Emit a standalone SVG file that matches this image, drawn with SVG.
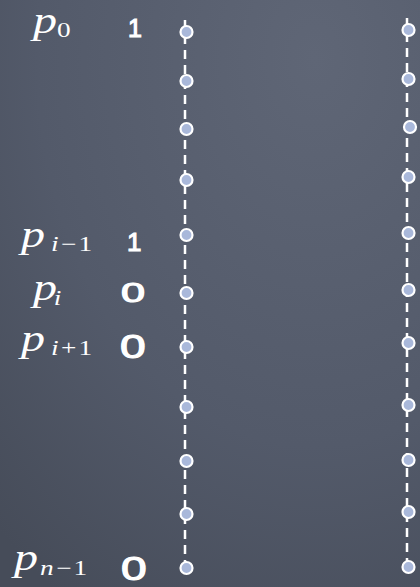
<svg xmlns="http://www.w3.org/2000/svg" width="420" height="587" viewBox="0 0 420 587">
<defs>
<radialGradient id="bg" cx="0.75" cy="0.1" r="1.1">
<stop offset="0" stop-color="#5f6676"/>
<stop offset="0.6" stop-color="#535a6a"/>
<stop offset="1" stop-color="#464c59"/>
</radialGradient>
</defs>
<rect width="420" height="587" fill="url(#bg)"/>
<g id="connectors" stroke="#ffffff" stroke-width="2.5" stroke-dasharray="9 6" fill="none">
<line x1="185" y1="20" x2="185" y2="568"/>
<line x1="407" y1="18" x2="407" y2="567"/>
</g>
<g id="labels" fill="#ffffff" font-family="Liberation Serif, serif">
<text id="lbl-p0" transform="translate(33 33) scale(1.3 1)" font-size="37" font-style="italic">p<tspan x="18.5" y="4" font-size="21" font-style="normal">0</tspan></text>
<text id="lbl-pim1" transform="translate(21 247) scale(1.3 1)" font-size="37" font-style="italic">p<tspan x="23" y="4" font-size="21">i</tspan><tspan dx="2" font-size="21" font-style="normal">−</tspan><tspan dx="1.5" font-size="21" font-style="normal">1</tspan></text>
<text id="lbl-pi" transform="translate(33 300) scale(1.3 1)" font-size="37" font-style="italic">p<tspan x="16" y="5" font-size="21">i</tspan></text>
<text id="lbl-pip1" transform="translate(21 351) scale(1.3 1)" font-size="37" font-style="italic">p<tspan x="23" y="4" font-size="21">i</tspan><tspan dx="2" font-size="21" font-style="normal">+</tspan><tspan dx="1.5" font-size="21" font-style="normal">1</tspan></text>
<text id="lbl-pnm1" transform="translate(14 570) scale(1.3 1)" font-size="37" font-style="italic">p<tspan x="20" y="5" font-size="21">n</tspan><tspan dx="2" font-size="21" font-style="normal">−</tspan><tspan dx="1.5" font-size="21" font-style="normal">1</tspan></text>
<g font-family="Liberation Sans, sans-serif" stroke="#ffffff" stroke-width="1.1">
<text x="128" y="37" font-size="25">1</text>
<text x="127" y="251" font-size="26">1</text>
<text transform="translate(121 302) scale(1.6 1)" font-size="27">0</text>
<text transform="translate(120 358) scale(1.4 1)" font-size="33">0</text>
<text transform="translate(121 580) scale(1.4 1)" font-size="33">0</text>
</g>
</g>
<g id="left-nodes" fill="#a9b8da" stroke="#ffffff" stroke-width="2.2">
<circle id="L0" cx="186.5" cy="32" r="6"/>
<circle id="L1" cx="186.5" cy="81" r="6"/>
<circle id="L2" cx="186.5" cy="129" r="6"/>
<circle id="L3" cx="186.5" cy="180" r="6"/>
<circle id="L4" cx="186.5" cy="235" r="6"/>
<circle id="L5" cx="186.5" cy="293" r="6"/>
<circle id="L6" cx="186.5" cy="347" r="6"/>
<circle id="L7" cx="186.5" cy="407" r="6"/>
<circle id="L8" cx="186.5" cy="461" r="6"/>
<circle id="L9" cx="186.5" cy="514" r="6"/>
<circle id="L10" cx="186.5" cy="568" r="6"/>
</g>
<g id="right-nodes" fill="#a9b8da" stroke="#ffffff" stroke-width="2.2">
<circle id="R0" cx="408.5" cy="30" r="6"/>
<circle id="R1" cx="408.5" cy="79" r="6"/>
<circle id="R2" cx="410" cy="127" r="6"/>
<circle id="R3" cx="408.5" cy="177" r="6"/>
<circle id="R4" cx="408.5" cy="233" r="6"/>
<circle id="R5" cx="408.5" cy="290" r="6"/>
<circle id="R6" cx="408.5" cy="343" r="6"/>
<circle id="R7" cx="408.5" cy="405" r="6"/>
<circle id="R8" cx="408.5" cy="460" r="6"/>
<circle id="R9" cx="408.5" cy="512" r="6"/>
<circle id="R10" cx="408.5" cy="567" r="6"/>
</g>
</svg>
